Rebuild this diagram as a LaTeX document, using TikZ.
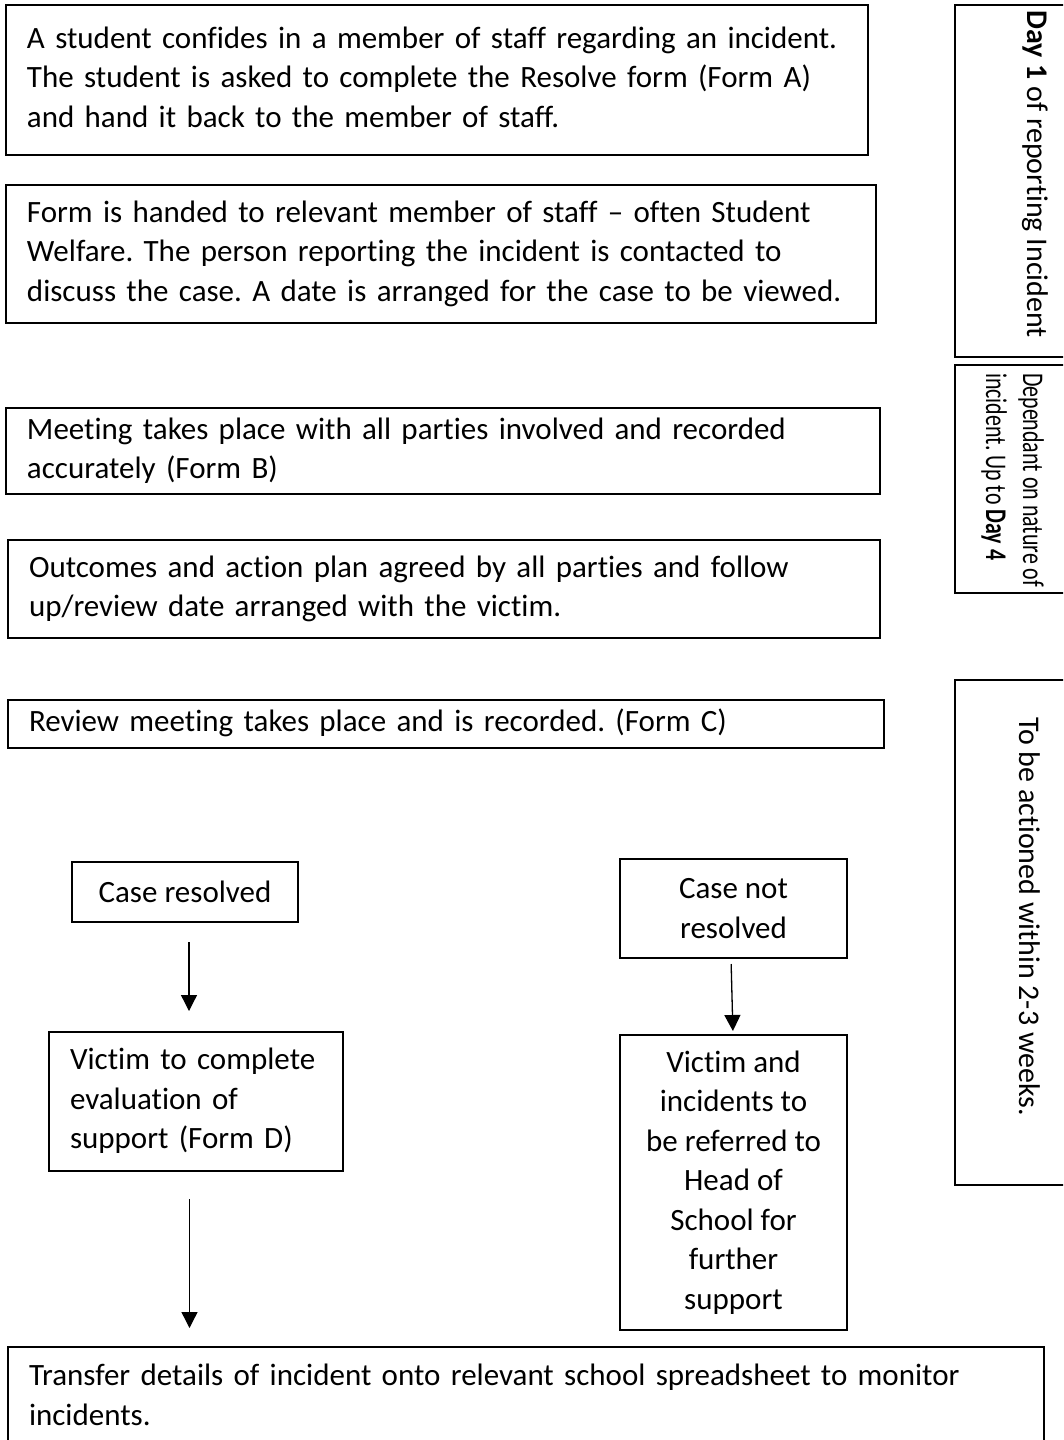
\documentclass[tikz,border=0pt]{standalone}
\usepackage{fontspec}
\usepackage{graphicx}
\setmainfont{Carlito}[Ligatures=NoCommon]
\usetikzlibrary{arrows.meta}
\newcommand{\tlines}[1]{\begin{tabular}{@{}l@{}}#1\end{tabular}}
\tikzset{
  box/.style={draw, line width=1.6pt, anchor=north west, inner sep=0pt, outer sep=0pt,
              font=\fontsize{31}{39.5}\selectfont\frenchspacing},
  lbox/.style={box, align=left, inner xsep=21pt},
  cbox/.style={box, align=center},
  arr/.style={line width=1.3pt, -{Triangle[width=16pt,length=16pt]}},
  vtext/.style={rotate=-90, anchor=west, align=left, inner sep=0pt,
                font=\fontsize{30}{37}\selectfont\frenchspacing}
}
\begin{document}
\begin{tikzpicture}[x=1pt,y=-1pt]
\useasboundingbox (0,0) rectangle (1063,1440);
\fill[white] (0,0) rectangle (1063,1440);
\clip (0,0) rectangle (1063,1440);

\node[lbox, minimum width=862pt, minimum height=150pt, text width=820pt] (b1) at (6,5)
  {\tlines{A student confides in a member of staff regarding an incident.\\The student is asked to complete the Resolve form (Form A)\\and hand it back to the member of staff.}};
\node[lbox, minimum width=870pt, minimum height=138pt, text width=828pt] (b2) at (6,185)
  {\tlines{Form is handed to relevant member of staff -- often Student\\Welfare. The person reporting the incident is contacted to\\discuss the case. A date is arranged for the case to be viewed.}};
\node[lbox, minimum width=874pt, minimum height=86pt, text width=832pt] (b3) at (6,408)
  {\tlines{Meeting takes place with all parties involved and recorded\\accurately (Form B)}};
\node[lbox, minimum width=872pt, minimum height=98pt, text width=830pt] (b4) at (8,540)
  {\tlines{Outcomes and action plan agreed by all parties and follow\\up/review date arranged with the victim.}};
\node[lbox, minimum width=876pt, minimum height=48pt, text width=834pt] (b5) at (8,700)
  {\tlines{Review meeting takes place and is recorded. (Form C)}};

\node[cbox, minimum width=226pt, minimum height=60pt] (cr) at (72,862) {Case resolved};
\node[cbox, minimum width=227pt, minimum height=99pt] (cnr) at (620,859) {Case not\\resolved};
\node[lbox, minimum width=294pt, minimum height=139pt, text width=252pt] (vc) at (49,1032)
  {\tlines{Victim to complete\\evaluation of\\support (Form D)}};
\node[cbox, minimum width=227pt, minimum height=295pt] (vi) at (620,1035)
  {Victim and\\incidents to\\be referred to\\Head of\\School for\\further\\support};
\node[lbox, minimum width=1036pt, minimum height=101pt, text width=994pt] (tr) at (8,1347)
  {\tlines{Transfer details of incident onto relevant school spreadsheet to monitor\\incidents.}};

\node[box, minimum width=130pt, minimum height=352pt] (r1) at (955,5) {};
\node[box, minimum width=130pt, minimum height=228pt] (r2) at (955,365) {};
\node[box, minimum width=130pt, minimum height=505pt] (r3) at (955,680) {};
\node[vtext] (t1) at (1035,10) {\textbf{Day 1} of reporting Incident};
\node[vtext] (t2) at (1012,373) {\scalebox{0.73}[1]{\tlines{Dependant on nature of\\incident. Up to \textbf{Day 4}}}};
\node[vtext] (t3) at (1030,717) {To be actioned within 2-3 weeks.};

\draw[arr, shorten <=20pt, shorten >=21pt] ([xshift=4pt]cr.south) -- ([xshift=4pt]cr.south |- vc.north);
\draw[arr, shorten <=6pt, shorten >=4pt] ([xshift=-2.5pt]cnr.south) -- ([xshift=-0.5pt]vi.north);
\draw[arr, shorten <=28pt, shorten >=19pt] ([xshift=-6.5pt]vc.south) -- ([xshift=-6.5pt]vc.south |- tr.north);
\end{tikzpicture}
\end{document}
